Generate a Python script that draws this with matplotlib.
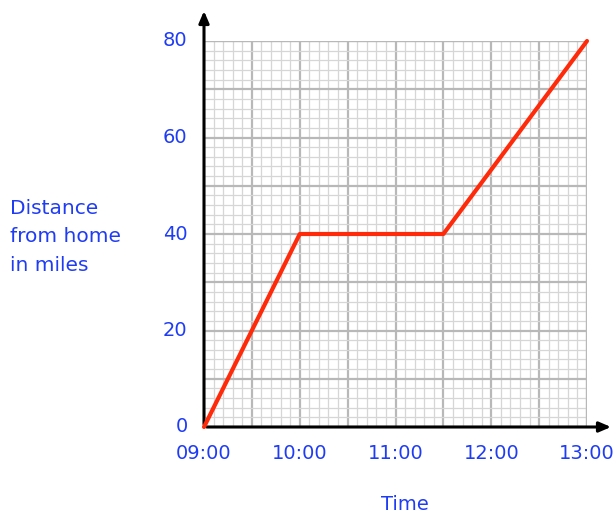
import numpy as np
import matplotlib
matplotlib.use("Agg")
import matplotlib.pyplot as plt
from matplotlib.ticker import MultipleLocator

# journey: hours after 09:00 and distance from home (miles)
horas = [0, 1, 2.5, 4]
distancia = [0, 40, 40, 80]
etiquetas_x = ["09:00", "10:00", "11:00", "12:00", "13:00"]
ticks_y = [0, 20, 40, 60, 80]

azul = "#1f3cf5"
plt.rcParams['font.family'] = ['DejaVu Sans']

fig = plt.figure(figsize=(6.14, 5.15), dpi=100)
ax = fig.add_axes([204 / 614, 88 / 515, 383 / 614, 386 / 515])

ax.set_xlim(0, 4)
ax.set_ylim(0, 80)
ax.xaxis.set_major_locator(MultipleLocator(0.5))
ax.xaxis.set_minor_locator(MultipleLocator(0.1))
ax.yaxis.set_major_locator(MultipleLocator(10))
ax.yaxis.set_minor_locator(MultipleLocator(2))
ax.grid(which='minor', color='#d6d6d6', linewidth=0.9)
ax.grid(which='major', color='#b8b8b8', linewidth=1.6)
ax.set_axisbelow(True)
ax.tick_params(which='both', length=0, labelbottom=False, labelleft=False)
for s in ['top', 'right', 'left', 'bottom']:
    ax.spines[s].set_visible(False)
ax.axhline(80, color='#b8b8b8', linewidth=1.6)
ax.axvline(4, color='#b8b8b8', linewidth=1.6)

# axes with arrow heads
ax.annotate("", xy=(0, 86.8), xytext=(0, 0), annotation_clip=False,
            arrowprops=dict(arrowstyle='-|>,head_width=0.3,head_length=0.7', color='black', lw=2.2))
ax.annotate("", xy=(4.28, 0), xytext=(0, 0), annotation_clip=False,
            arrowprops=dict(arrowstyle='-|>,head_width=0.3,head_length=0.7', color='black', lw=2.2))

ax.plot(horas, distancia, color='#ff2a0a', linewidth=3, solid_capstyle='round', zorder=5, clip_on=False)

for i, lab in enumerate(etiquetas_x):
    ax.text(i, -5.5, lab, color=azul, fontsize=14, ha='center', va='center')
for v in ticks_y:
    ax.text(-0.17, v, str(v), color=azul, fontsize=14, ha='right', va='center')

fig.text(10 / 614, 1 - 237 / 515, "Distance\nfrom home\nin miles", color=azul, fontsize=14.5,
         ha='left', va='center', linespacing=1.65)
fig.text(405 / 614, 1 - 504 / 515, "Time", color=azul, fontsize=14, ha='center', va='center')

fig.savefig("out.png", dpi=100)
